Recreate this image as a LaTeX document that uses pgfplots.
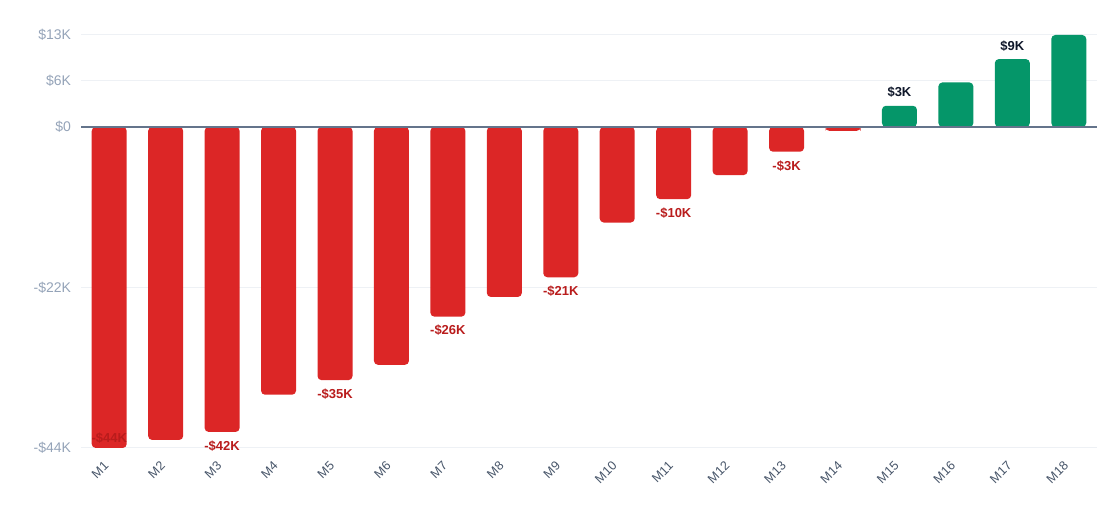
\documentclass[border=0pt]{standalone}
\usepackage{pgfplots}
\pgfplotsset{compat=1.18}
\usepackage{fontspec}
\setmainfont{Liberation Sans}

\definecolor{barred}{HTML}{DC2626}
\definecolor{bargreen}{HTML}{059669}
\definecolor{labred}{HTML}{B91C1C}
\definecolor{labdark}{HTML}{0F172A}
\definecolor{ytext}{HTML}{94A3B8}
\definecolor{xtext}{HTML}{475569}
\definecolor{gridc}{HTML}{EEF1F5}
\definecolor{zeroc}{HTML}{64748B}

\begin{document}
\begin{tikzpicture}[x=0.75pt,y=0.75pt]
% page frame: 1120 x 531 px, axis box starts at (81,448) px
\path[use as bounding box] (-81,-83) rectangle (1039,448);
\begin{axis}[
    at={(0,0)}, anchor=south west,
    scale only axis,
    width=762pt, height=309.75pt,
    xmin=0.5, xmax=18.5,
    ymin=-44, ymax=12.6,
    clip=false,
    axis line style={draw=none},
    major tick length=0pt,
    ymajorgrids,
    grid style={draw=gridc, line width=0.75pt},
    ytick={-44,-22,0,6.3,12.6},
    yticklabels={-\$44K,-\$22K,\$0,\$6K,\$13K},
    xtick={1,...,18},
    xticklabels={M1,M2,M3,M4,M5,M6,M7,M8,M9,M10,M11,M12,M13,M14,M15,M16,M17,M18},
    /pgf/number format/assume math mode=true,
    yticklabel style={font=\fontsize{10.5}{12}\selectfont, text=ytext, xshift=-4pt},
    xticklabel style={font=\fontsize{9.5}{11}\selectfont, text=xtext, xshift=-4.5pt, yshift=-4.5pt, rotate=45, anchor=north east},
]
% losses
\addplot[ybar, bar width=26.25pt, bar shift=0pt, fill=barred, draw=none, rounded corners=3pt]
coordinates {
    (1,-44.0) (2,-42.9) (3,-41.8) (4,-36.7) (5,-34.7) (6,-32.6)
    (7,-26.0) (8,-23.3) (9,-20.6) (10,-13.1) (11,-9.9) (12,-6.6)
    (13,-3.4) (14,-0.55)
};
% gains
\addplot[ybar, bar width=26.25pt, bar shift=0pt, fill=bargreen, draw=none, rounded corners=3pt]
coordinates {
    (15,2.9) (16,6.1) (17,9.3) (18,12.6)
};
% zero line
\draw[zeroc, line width=1.5pt] (axis cs:0.5,0) -- (axis cs:18.5,0);
% value labels
\addplot[draw=none, point meta=explicit symbolic,
    nodes near coords, every node near coord/.append style={anchor=center, yshift=7.5pt,
    font=\fontsize{9.75}{11}\selectfont\bfseries, text=labred}]
coordinates {(1,-44.0)[-\$44K]};
\addplot[draw=none, point meta=explicit symbolic,
    nodes near coords, every node near coord/.append style={anchor=center, yshift=-10.5pt,
    font=\fontsize{9.75}{11}\selectfont\bfseries, text=labred}]
coordinates {
    (3,-41.8)[-\$42K] (5,-34.7)[-\$35K] (7,-26.0)[-\$26K] (9,-20.6)[-\$21K]
    (11,-9.9)[-\$10K] (13,-3.4)[-\$3K]
};
\addplot[draw=none, point meta=explicit symbolic,
    nodes near coords, every node near coord/.append style={anchor=center, yshift=10pt,
    font=\fontsize{9.75}{11}\selectfont\bfseries, text=labdark}]
coordinates {(15,2.9)[\$3K] (17,9.3)[\$9K]};
\end{axis}
\end{tikzpicture}
\end{document}
